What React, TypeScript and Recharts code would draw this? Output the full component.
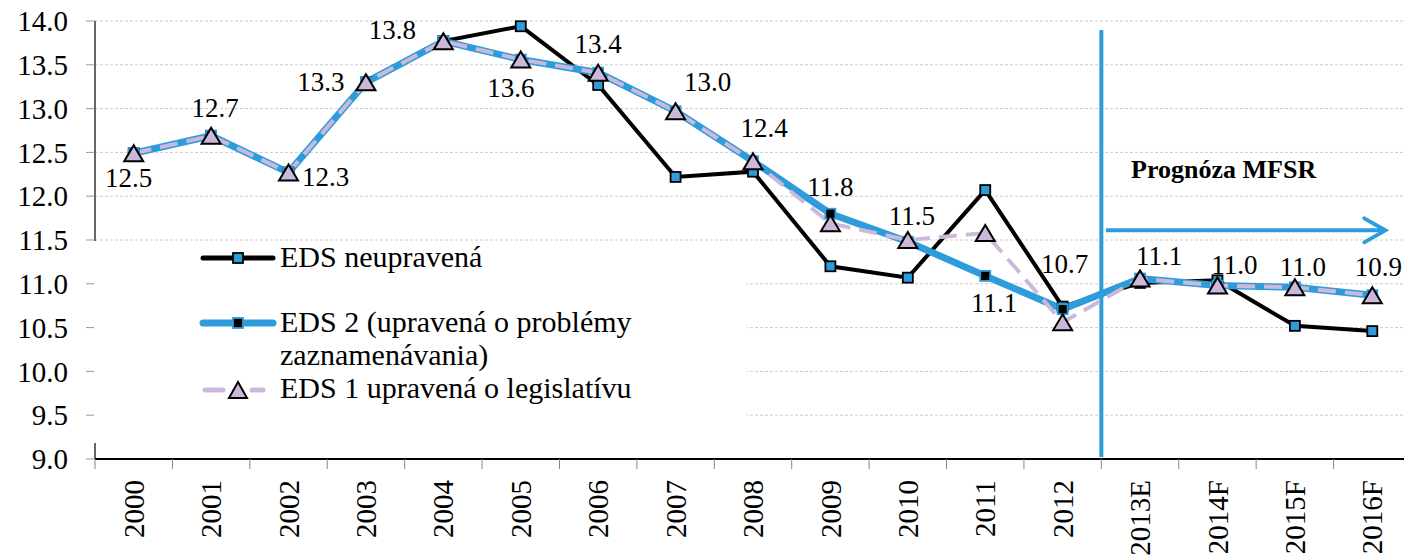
import React from 'react';
import { LineChart, Line, XAxis, YAxis, CartesianGrid, Legend, LabelList, ReferenceLine } from 'recharts';

const years = ['2000', '2001', '2002', '2003', '2004', '2005', '2006', '2007', '2008', '2009', '2010', '2011', '2012', '2013E', '2014F', '2015F', '2016F'];
const edsRaw = [12.49, 12.69, 12.27, 13.3, 13.77, 13.94, 13.27, 12.22, 12.28, 11.2, 11.07, 12.07, 10.74, 11.01, 11.04, 10.52, 10.46];
const eds2 = [12.49, 12.69, 12.27, 13.3, 13.77, 13.56, 13.41, 12.97, 12.4, 11.8, 11.48, 11.09, 10.71, 11.06, 10.98, 10.96, 10.87];
const eds1 = [12.49, 12.69, 12.27, 13.3, 13.77, 13.56, 13.41, 12.97, 12.4, 11.69, 11.5, 11.58, 10.56, 11.06, 10.98, 10.96, 10.87];
const yTicks = [9, 9.5, 10, 10.5, 11, 11.5, 12, 12.5, 13, 13.5, 14];

const nameRaw = 'EDS neupravená';
const nameEds2 = 'EDS 2 (upravená o problémy zaznamenávania)';
const nameEds1 = 'EDS 1 upravená o legislatívu';
const forecastLabel = 'Prognóza MFSR';
const arrowLevel = 11.61;

const data = years.map((year, i) => ({ year, raw: edsRaw[i], eds2: eds2[i], eds1: eds1[i] }));

// where each value label sits relative to its point (text centre)
const labelOffsets: [number, number][] = [
  [-5, 25], [4, -28], [37, 4], [-45, 0], [-51, -11], [-10, 28], [0, -29], [32, -29], [11, -33],
  [0, -27], [4, -26], [9, 27], [2, -45], [19, -23], [17, -21], [8, -20], [6, -28],
];

const FONT = '"Liberation Serif", "Times New Roman", serif';
const BLUE = '#2E9CDB';
const LILAC = '#CCB9D9';

const CHART_W = 1420;
const CHART_H = 557;
const Y_W = 95;
const X_H = 98;
const M = { top: 21, right: 9, bottom: 0, left: 0 };
const BAND = (CHART_W - Y_W - M.right) / years.length;
const PLOT_BOTTOM = CHART_H - X_H;

const SquareDot = (p: any) => {
  const { cx, cy, index, fill, stroke } = p;
  if (cx == null || cy == null) return <g key={index} />;
  return <rect key={index} x={cx - 5} y={cy - 5} width={10} height={10} fill={fill} stroke={stroke} strokeWidth={1.8} />;
};

const rawDot = (p: any) => <SquareDot key={p.index} {...p} fill={BLUE} stroke="#000" />;
const eds2Dot = (p: any) => <SquareDot key={p.index} {...p} fill="#000" stroke={BLUE} />;
const triDot = (p: any) => {
  const { cx, cy, index } = p;
  if (cx == null || cy == null) return <g key={index} />;
  const w = 19, h = 16;
  return (
    <polygon
      key={index}
      points={`${cx},${cy - h / 2} ${cx + w / 2},${cy + h / 2} ${cx - w / 2},${cy + h / 2}`}
      fill={LILAC}
      stroke="#000"
      strokeWidth={2}
    />
  );
};

const XTick = (p: any) => {
  const { x, y, payload } = p;
  const bx = x - BAND / 2;
  return (
    <g>
      <line x1={bx} x2={bx} y1={PLOT_BOTTOM} y2={PLOT_BOTTOM + 10} stroke="#888" strokeWidth={1} />
      <text
        x={x}
        y={y}
        transform={`rotate(-90 ${x} ${y})`}
        textAnchor="end"
        dy="0.35em"
        fontFamily={FONT}
        fontSize={29}
        fill="#000"
      >
        {payload.value}
      </text>
    </g>
  );
};

const renderValueLabel = (props: any) => {
  const vb = props.viewBox || {};
  const px = (vb.x ?? props.x) + (vb.width || 0) / 2;
  const py = (vb.y ?? props.y) + (vb.height || 0) / 2;
  const [dx, dy] = labelOffsets[props.index] || [0, -25];
  return (
    <text
      key={props.index}
      x={px + dx}
      y={py + dy}
      textAnchor="middle"
      dominantBaseline="central"
      fontFamily={FONT}
      fontSize={27}
      fill="#000"
    >
      {Number(props.value).toFixed(1)}
    </text>
  );
};

const ForecastLine = (p: any) => {
  const x = p.x1 + BAND / 2;
  const top = Math.min(p.y1, p.y2);
  const bottom = Math.max(p.y1, p.y2);
  return <line x1={x} x2={x} y1={top + 9} y2={bottom - 2} stroke={BLUE} strokeWidth={4} />;
};

const ForecastArrow = (p: any) => {
  const xs = p.x1 - 34;
  const xe = p.x2 + 13;
  const y = p.y1;
  return (
    <g>
      <line x1={xs} x2={xe - 2} y1={y} y2={y} stroke={BLUE} strokeWidth={4} />
      <polyline
        points={`${xe - 21},${y - 12} ${xe},${y} ${xe - 21},${y + 12}`}
        fill="none"
        stroke={BLUE}
        strokeWidth={4}
        strokeLinecap="round"
      />
      <text x={xs + 25} y={y - 52} fontFamily={FONT} fontSize={26} fontWeight="bold" fill="#000">
        {forecastLabel}
      </text>
    </g>
  );
};

const LegendBox = () => {
  const lx1 = 109, lx2 = 179, cx = 144, tx = 186;
  return (
    <svg width={653} height={202} style={{ display: 'block', background: '#fff' }}>
      <line x1={lx1} x2={lx2} y1={17} y2={17} stroke="#000" strokeWidth={5} strokeLinecap="round" />
      <rect x={cx - 5} y={12} width={10} height={10} fill={BLUE} stroke="#000" strokeWidth={1.8} />
      <text x={tx} y={26} fontFamily={FONT} fontSize={30} fill="#000">{nameRaw}</text>

      <line x1={lx1} x2={lx2} y1={82} y2={82} stroke={BLUE} strokeWidth={7} strokeLinecap="round" />
      <rect x={cx - 5} y={77} width={10} height={10} fill="#000" stroke={BLUE} strokeWidth={1.8} />
      <text x={tx} y={91} fontFamily={FONT} fontSize={30} fill="#000">
        <tspan x={tx}>{nameEds2.split(' zazn')[0]}</tspan>
        <tspan x={tx} dy={33}>{'zazn' + nameEds2.split(' zazn')[1]}</tspan>
      </text>

      <line x1={lx1 + 2} x2={lx1 + 20} y1={149} y2={149} stroke={LILAC} strokeWidth={5} strokeLinecap="round" />
      <line x1={cx + 14} x2={cx + 25} y1={149} y2={149} stroke={LILAC} strokeWidth={5} strokeLinecap="round" />
      <polygon points={`${cx},${141} ${cx + 9},${157} ${cx - 9},${157}`} fill={LILAC} stroke="#000" strokeWidth={2} />
      <text x={tx} y={157} fontFamily={FONT} fontSize={30} fill="#000">{nameEds1}</text>
    </svg>
  );
};

export default function App() {
  return (
    <div style={{ position: 'absolute', left: 0, top: 0, width: 1404, height: 557, overflow: 'hidden', background: '#fff' }}>
      <LineChart width={CHART_W} height={CHART_H} data={data} margin={M}>
        <CartesianGrid vertical={false} stroke="#cccccc" strokeDasharray="3 2" />
        <XAxis
          dataKey="year"
          height={X_H}
          interval={0}
          padding={{ left: BAND / 2, right: BAND / 2 }}
          tickLine={false}
          tickSize={9}
          tickMargin={12}
          axisLine={{ stroke: '#000', strokeWidth: 2 }}
          tick={<XTick />}
        />
        <YAxis
          width={Y_W}
          domain={[9, 14]}
          ticks={yTicks}
          interval={0}
          tickSize={9}
          tickMargin={18}
          tickFormatter={(v: number) => v.toFixed(1)}
          axisLine={{ stroke: '#000', strokeWidth: 1.2 }}
          tickLine={{ stroke: '#999' }}
          tick={{ fill: '#000', fontSize: 29, fontFamily: FONT }}
        />
        <ReferenceLine x="2012" shape={ForecastLine} ifOverflow="visible" />
        <ReferenceLine
          segment={[{ x: '2013E', y: arrowLevel }, { x: '2016F', y: arrowLevel }]}
          shape={ForecastArrow}
          ifOverflow="visible"
        />
        <Line
          name={nameRaw}
          dataKey="raw"
          stroke="#000"
          strokeWidth={4}
          dot={rawDot}
          activeDot={false}
          isAnimationActive={false}
        />
        <Line
          name={nameEds2}
          dataKey="eds2"
          stroke={BLUE}
          strokeWidth={7}
          dot={eds2Dot}
          activeDot={false}
          isAnimationActive={false}
        >
          <LabelList dataKey="eds2" content={renderValueLabel} />
        </Line>
        <Line
          name={nameEds1}
          dataKey="eds1"
          stroke={LILAC}
          strokeWidth={4}
          strokeDasharray="18 9"
          dot={triDot}
          activeDot={false}
          isAnimationActive={false}
        />
        <Legend
          layout="vertical"
          align="center"
          verticalAlign="middle"
          content={<LegendBox />}
          wrapperStyle={{ left: 94, top: 241, width: 653, height: 202, background: '#fff', lineHeight: 0 }}
        />
      </LineChart>
    </div>
  );
}
